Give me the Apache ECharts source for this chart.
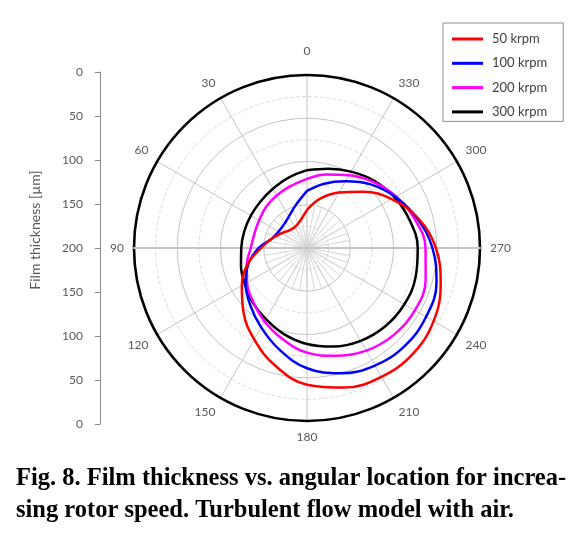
<!DOCTYPE html>
<html>
<head>
<meta charset="utf-8">
<script src="https://cdn.jsdelivr.net/npm/echarts@6/dist/echarts.min.js"></script>
<style>html,body{margin:0;padding:0;background:#fff;}#c{width:581px;height:534px;}</style>
</head>
<body>
<div id="c"></div>
<script>
// Angular locations (deg) and film thickness (µm)
var angles = [0,15,30,45,60,75,90,105,120,135,150,165,180,195,210,225,240,255,270,285,300,315,330,345];
var rpm50  = [156,168,172,171,166,158,147,129,113,96,78,59,42,33,28,27,31,40,51,67,87,108,126,141];
var rpm100 = [134,149,158,162,162,158,144,130,118,107,94,78,61,50,43,40,41,45,55,68,82,96,111,123];
var rpm200 = [120,126,130,133,136,137,135,128,120,112,102,91,79,71,63,58,56,58,63,71,81,92,103,112];
var rpm300 = [110,116,121,124,125,125,124,121,117,111,105,97,89,82,76,72,70,70,72,77,83,90,98,105];
var seriesNames = ['50 krpm','100 krpm','200 krpm','300 krpm'];
var angleTicks = [0,30,60,90,120,150,180,210,240,270,300,330];
var radialTicks = [0,50,100,150,200,150,100,50,0]; // top to bottom on the left axis
var axisTitle = 'Film thickness [\u00b5m]';
var caption = 'Fig. 8. Film thickness vs. angular location for increa-\nsing rotor speed. Turbulent flow model with air.';

function pairs(vals){
  var d = vals.map(function(v,i){ return [v, angles[i]]; });
  d.push([vals[0], 360]);
  return d;
}
var colors = ['#ff0000','#0000ff','#ff00ff','#000000'];
var allVals = [rpm50, rpm100, rpm200, rpm300];

var C = [307, 248], R = 173;
var font = 'Lato';
var labelGrey = '#595959';

var chart = echarts.init(document.getElementById('c'), null, {renderer:'canvas'});
chart.setOption({
  animation: false,
  backgroundColor: '#fff',
  title: {
    text: caption, left: 16, top: 462, padding: 0,
    textStyle: {fontFamily: 'Liberation Serif', fontWeight: 'bold', fontSize: 24.5, lineHeight: 32.5, color: '#000'}
  },
  legend: {
    orient: 'vertical', left: 443, top: 23,
    padding: [9.5, 16, 3, 9],
    itemWidth: 31, itemHeight: 3, itemGap: 11.3, icon: 'rect',
    borderColor: '#8c8c8c', borderWidth: 1,
    textStyle: {fontFamily: font, fontSize: 13, color: '#404040', padding: [0,0,0,4]},
    data: seriesNames
  },
  graphic: [{
    type: 'text', x: 35, y: 230, rotation: Math.PI / 2,
    style: {text: axisTitle, fontFamily: font, fontSize: 14, fill: labelGrey, align: 'center', verticalAlign: 'middle'}
  }],
  polar: [
    {center: C, radius: R},
    {center: C, radius: 44}
  ],
  angleAxis: [
    {
      polarIndex: 0, type: 'value', min: 0, max: 360, interval: 30,
      startAngle: 90, clockwise: false,
      axisLine: {show: true, lineStyle: {color: '#000', width: 2.6}},
      axisTick: {show: false},
      axisLabel: {margin: 10, color: labelGrey, fontFamily: font, fontSize: 12,
        formatter: function(v){
          var i = angleTicks.indexOf(v);
          if (i < 0) return '';
          return i === 0 ? '{t|' + angleTicks[i] + '}' : String(angleTicks[i]);
        },
        rich: {t: {padding: [0,0,8,0], color: labelGrey, fontFamily: font, fontSize: 12}}
      },
      splitLine: {show: true, lineStyle: {color: '#c4c4c4', width: 1}}
    },
    {
      polarIndex: 1, type: 'value', min: 0, max: 360, interval: 10,
      startAngle: 90, clockwise: false,
      axisLine: {show: false}, axisTick: {show: false}, axisLabel: {show: false},
      splitLine: {show: true, lineStyle: {color: '#d6d6d6', width: 1}}
    }
  ],
  radiusAxis: [
    {
      polarIndex: 0, type: 'value', min: 0, max: 200, interval: 50, inverse: true,
      axisLine: {show: false}, axisTick: {show: false}, axisLabel: {show: false},
      splitLine: {show: true, lineStyle: {color: '#c4c4c4', width: 1}},
      minorTick: {show: false, splitNumber: 2},
      minorSplitLine: {show: true, lineStyle: {color: '#dcdcdc', width: 1, type: 'dashed'}}
    },
    {
      polarIndex: 1, type: 'value', min: 0, max: 1,
      axisLine: {show: false}, axisTick: {show: false}, axisLabel: {show: false},
      splitLine: {show: false}
    }
  ],
  grid: {left: C[0] - R, width: 2 * R, top: C[1] - 176, height: 352, containLabel: false},
  xAxis: {
    type: 'value', min: 0, max: 1,
    axisLine: {show: true, onZero: true, lineStyle: {color: '#c4c4c4', width: 2}},
    axisTick: {show: false}, axisLabel: {show: false}, splitLine: {show: false}
  },
  yAxis: {
    type: 'value', min: -200, max: 200, interval: 50, position: 'left', offset: C[0] - R - 100,
    axisLine: {show: true, onZero: false, lineStyle: {color: '#8c8c8c', width: 1}},
    axisTick: {show: true, inside: false, length: 5, lineStyle: {color: '#8c8c8c'}},
    axisLabel: {margin: 17, color: labelGrey, fontFamily: font, fontSize: 12,
      formatter: function(v){ return String(radialTicks[Math.round((200 - v) / 50)]); }},
    splitLine: {show: false}
  },
  series: seriesNames.map(function(n, k){
    return {
      name: n, type: 'line', coordinateSystem: 'polar', polarIndex: 0,
      data: pairs(allVals[k]), smooth: 0.4, showSymbol: false, symbol: 'none',
      lineStyle: {color: colors[k], width: 2.5}, itemStyle: {color: colors[k]},
      z: 10 - k
    };
  })
});
</script>
</body>
</html>
